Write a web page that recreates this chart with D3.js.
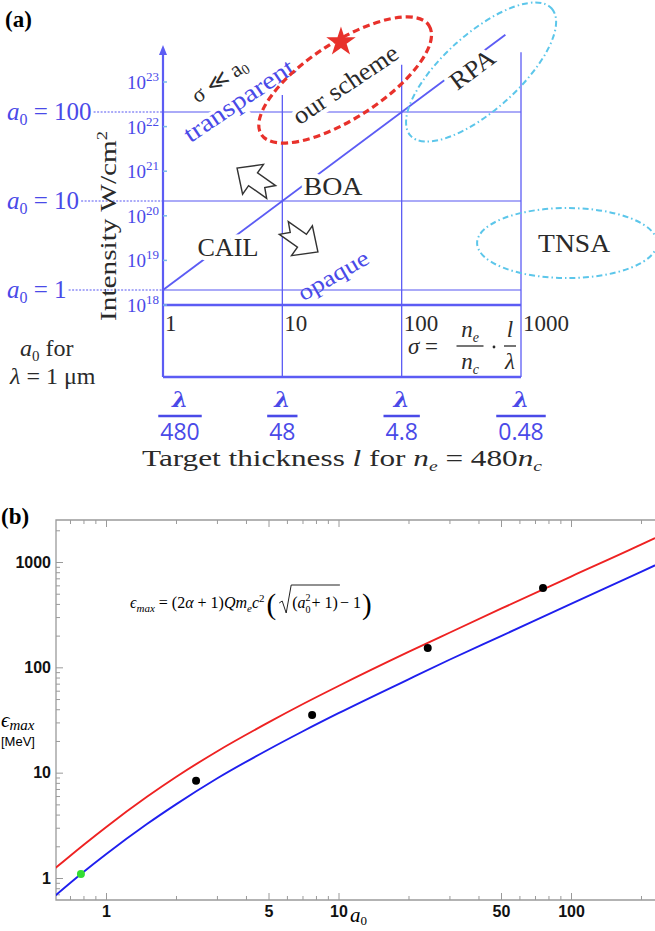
<!DOCTYPE html>
<html>
<head>
<meta charset="utf-8">
<script src="https://cdn.jsdelivr.net/npm/d3@7"></script>
<style>
  body { margin: 0; background: #fff; }
  svg text { font-family: "Liberation Serif", "Times New Roman", serif; }
  .tick text { font-family: "Liberation Sans", Arial, sans-serif; font-weight: bold; font-size: 16px; fill: #111; }
  .tick line { stroke: #9a9a9a; }
</style>
</head>
<body>
<svg id="fig" width="655" height="931"></svg>
<script>
// ---------- panel (a) data ----------
var intensityExp = [18, 19, 20, 21, 22, 23];          // 10^x W/cm^2
var a0Levels = [1, 10, 100];
var sigmaTicks = [1, 10, 100, 1000];
var sigmaLabels = ["1", "10", "100", "1000"];
var thicknessDen = ["480", "48", "4.8", "0.48"];        // l = lambda / den
var gridTopA0 = [155, 340, 470];                        // where the sigma=10,100,1000 lines stop
var diagonalSigma = [1, 740];                           // a0 = sigma boundary

// ---------- panel (b) data ----------
var a0Grid  = [0.6, 0.8, 1, 1.5, 2, 3, 5, 7, 10, 20, 30, 50, 100, 200, 230];
var epsHigh = [1.22, 2.06, 3.04, 5.9, 9.1, 15.9, 30, 44.6, 66.5, 140, 213, 360, 728, 1460, 1690];
var epsLow  = [0.67, 1.14, 1.68, 3.25, 5.0, 8.8, 16.6, 24.6, 36.7, 77, 118, 198, 401, 806, 930];
var simA0   = [2.44, 7.7, 24.2, 75.8];
var simEps  = [8.4, 35.3, 153, 566];
var greenA0 = [0.78];
var greenEps = [1.09];
var xMajor = [1, 5, 10, 50, 100];
var xMinor = [0.7, 0.8, 0.9, 2, 3, 4, 6, 7, 8, 9, 20, 30, 40, 60, 70, 80, 90, 200];
var yMajor = [1, 10, 100, 1000];
var yMinor = [0.7, 0.8, 0.9, 2, 3, 4, 5, 6, 7, 8, 9, 20, 30, 40, 50, 60, 70, 80, 90,
              200, 300, 400, 500, 600, 700, 800, 900, 2000];

var svg = d3.select("#fig");
var blue = "#4a4ae8", lineBlue = "#5c5cf4", lightBlue = "#8e8ef6", ink = "#2a2a2a";

// =================== (a) ===================
var sx = d3.scaleLog().domain([1, 1000]).range([163, 521]);
var sA = d3.scaleLog().domain([1, 100]).range([290, 112]);
var sI = d3.scaleLog().domain([1e18, 1e23]).range([305, 82]);
var tableBottom = 377, axisY = 305;

var ga = svg.append("g");

ga.append("text").attr("x", 5).attr("y", 27)
    .style("font-weight", "bold").style("font-size", "23px").text("(a)");

// a0 labels on the left
var a0lab = ga.selectAll(".a0lab").data(a0Levels).enter().append("text")
    .attr("class", "a0lab")
    .attr("x", 7).attr("y", function(d) { return sA(d) + 8; })
    .style("fill", blue).style("font-size", "25px");
a0lab.append("tspan").style("font-style", "italic").text("a");
a0lab.append("tspan").style("font-size", "16px").attr("dy", 5).text("0");
a0lab.append("tspan").attr("dy", -5).text(function(d) { return " = " + d; });

// horizontal a0 lines: dotted up to the axis, solid inside
a0lab.each(function(d) {
    var end = this.getBBox().x + this.getBBox().width + 2;
    ga.append("line")
        .attr("x1", end).attr("x2", sx(1))
        .attr("y1", sA(d)).attr("y2", sA(d))
        .style("stroke", lightBlue).style("stroke-width", 1.4)
        .style("stroke-dasharray", "2,1.5");
});
ga.selectAll(".hgrid").data(a0Levels).enter().append("line")
    .attr("x1", sx(1)).attr("x2", sx(1000))
    .attr("y1", function(d) { return sA(d); })
    .attr("y2", function(d) { return sA(d); })
    .style("stroke", lightBlue).style("stroke-width", 1.4);

// vertical grid lines
ga.selectAll(".vgrid").data(sigmaTicks.slice(1)).enter().append("line")
    .attr("x1", function(d) { return sx(d); })
    .attr("x2", function(d) { return sx(d); })
    .attr("y1", function(d, i) { return sA(gridTopA0[i]); })
    .attr("y2", tableBottom)
    .style("stroke", lineBlue).style("stroke-width", 1.3);

// thick axis + table bottom
[axisY, tableBottom].forEach(function(yy) {
    ga.append("line").attr("x1", sx(1)).attr("x2", sx(1000))
        .attr("y1", yy).attr("y2", yy)
        .style("stroke", lineBlue).style("stroke-width", 2.6);
});
// vertical axis with arrow
ga.append("line").attr("x1", sx(1)).attr("x2", sx(1))
    .attr("y1", 52).attr("y2", tableBottom)
    .style("stroke", lineBlue).style("stroke-width", 2.2);
ga.append("path").attr("d", "M" + sx(1) + ",45 l-4,10 l8,0 z").style("fill", lineBlue);

// intensity ticks
var itk = ga.selectAll(".itk").data(intensityExp).enter().append("g")
    .attr("transform", function(d) { return "translate(0," + sI(Math.pow(10, d)) + ")"; });
itk.append("line").attr("x1", sx(1)).attr("x2", sx(1) + 4)
    .style("stroke", "#7ab8e8").style("stroke-width", 1.5);
var itx = itk.append("text").attr("x", 159).attr("y", 7)
    .attr("text-anchor", "end").style("fill", blue).style("font-size", "19px");
itx.append("tspan").text("10");
itx.append("tspan").attr("dy", -8).style("font-size", "13px").text(function(d) { return d; });

// intensity label
var ilab = ga.append("text")
    .attr("transform", "translate(116,226) rotate(-90)")
    .attr("text-anchor", "middle").style("font-size", "24px").style("fill", ink)
    .attr("textLength", 190).attr("lengthAdjust", "spacingAndGlyphs");
ilab.append("tspan").text("Intensity W/cm");
ilab.append("tspan").attr("dy", -9).style("font-size", "15px").text("2");

// a0 = sigma boundary
ga.append("line")
    .attr("x1", sx(diagonalSigma[0])).attr("y1", sA(diagonalSigma[0]))
    .attr("x2", sx(diagonalSigma[1])).attr("y2", sA(diagonalSigma[1]))
    .style("stroke", lineBlue).style("stroke-width", 1.9);

// sigma labels under the axis
ga.selectAll(".slab").data(sigmaTicks).enter().append("text")
    .attr("x", function(d) { return sx(d) + 2; })
    .attr("y", 331).style("font-size", "23px").style("fill", ink)
    .text(function(d, i) { return sigmaLabels[i]; });

// sigma = ne/nc * l/lambda
var fz = ga.append("g").style("fill", ink);
fz.append("text").attr("x", 408).attr("y", 354).style("font-size", "23px")
    .html('<tspan font-style="italic">σ</tspan> =');
function frac(g, cx, top, bot, w) {
    g.append("line").attr("x1", cx - w / 2).attr("x2", cx + w / 2)
        .attr("y1", 346).attr("y2", 346).style("stroke", ink).style("stroke-width", 1.3);
    g.append("text").attr("x", cx).attr("y", 337).attr("text-anchor", "middle")
        .style("font-size", "23px").html(top);
    g.append("text").attr("x", cx).attr("y", 369).attr("text-anchor", "middle")
        .style("font-size", "23px").html(bot);
}
frac(fz, 470, '<tspan font-style="italic">n</tspan><tspan font-size="14" dy="5" font-style="italic">e</tspan>',
              '<tspan font-style="italic">n</tspan><tspan font-size="14" dy="5" font-style="italic">c</tspan>', 27);
fz.append("circle").attr("cx", 494).attr("cy", 347).attr("r", 1.4).style("fill", ink);
frac(fz, 510, '<tspan font-style="italic">l</tspan>', '<tspan font-style="italic">λ</tspan>', 12);

// a0 for lambda = 1 um
ga.append("text").attr("x", 20).attr("y", 356).style("font-size", "24px").style("fill", ink)
    .html('<tspan font-style="italic">a</tspan><tspan font-size="15" dy="5">0</tspan><tspan dy="-5">  for</tspan>');
ga.append("text").attr("x", 10).attr("y", 384).style("font-size", "24px").style("fill", ink)
    .html('<tspan font-style="italic">λ</tspan> = 1 μm');

// thickness fractions
var tf = ga.selectAll(".tf").data(sigmaTicks).enter().append("g")
    .attr("transform", function(d) { return "translate(" + Math.max(sx(d), 180) + ",0)"; });
tf.append("text").attr("y", 407).attr("text-anchor", "middle")
    .style("fill", blue).style("font-size", "23px").style("font-weight", "bold")
    .style("font-family", "'DejaVu Serif', serif").style("font-style", "italic").text("λ");
var den = tf.append("text").attr("y", 440).attr("text-anchor", "middle")
    .style("fill", blue).style("font-size", "23px").style("font-family", "'Open Sans', sans-serif")
    .text(function(d, i) { return thicknessDen[i]; });
den.each(function() {
    var w = this.getComputedTextLength() + 4;
    d3.select(this.parentNode).append("line").attr("x1", -w / 2).attr("x2", w / 2)
        .attr("y1", 416).attr("y2", 416).style("stroke", blue).style("stroke-width", 2.6);
});

ga.append("text").attr("x", 142).attr("y", 466).style("font-size", "24px").style("fill", ink)
    .attr("textLength", 400).attr("lengthAdjust", "spacingAndGlyphs")
    .html('Target thickness  <tspan font-style="italic">l</tspan>  for <tspan font-style="italic">n</tspan><tspan font-size="15" dy="5" font-style="italic">e</tspan><tspan dy="-5"> = 480</tspan><tspan font-style="italic">n</tspan><tspan font-size="15" dy="5" font-style="italic">c</tspan>');

// regime labels (white halo cuts the lines behind them)
var notes = [
    { t: "CAIL", s: 3.5, a: 3.04, rot: 0, len: 61, fs: 26 },
    { t: "BOA", s: 26.6, a: 14.7, rot: 0, len: 59, fs: 26 },
    { t: "RPA", s: 389, a: 304, rot: -37, len: 50, fs: 25 },
    { t: "TNSA", s: 2786, a: 3.37, rot: 0, len: 72, fs: 26 },
    { t: "our scheme", s: 33.6, a: 206, rot: -34, len: 122, fs: 25 }
];
ga.selectAll(".note").data(notes).enter().append("text")
    .attr("transform", function(d) { return "translate(" + sx(d.s) + "," + sA(d.a) + ") rotate(" + d.rot + ")"; })
    .attr("text-anchor", "middle").attr("dy", "0.35em")
    .attr("textLength", function(d) { return d.len; }).attr("lengthAdjust", "spacingAndGlyphs")
    .style("font-size", function(d) { return d.fs + "px"; })
    .style("fill", ink).style("stroke", "#fff").style("stroke-width", 9)
    .style("paint-order", "stroke").style("stroke-linejoin", "round")
    .text(function(d) { return d.t; });

ga.append("text")
    .attr("transform", "translate(" + sx(4.3) + "," + sA(136) + ") rotate(-34)")
    .attr("text-anchor", "middle").attr("dy", "0.35em")
    .attr("textLength", 128).attr("lengthAdjust", "spacingAndGlyphs")
    .style("font-size", "25px").style("fill", blue)
    .style("stroke", "#fff").style("stroke-width", 7).style("paint-order", "stroke")
    .text("transparent");
ga.append("text")
    .attr("transform", "translate(" + sx(2.95) + "," + sA(229) + ") rotate(-34)")
    .attr("text-anchor", "middle").attr("dy", "0.35em")
    .style("font-size", "22px").style("fill", ink)
    .html('σ ≪ a<tspan font-size="14" dy="3">0</tspan>');
ga.append("text")
    .attr("transform", "translate(" + sx(26.6) + "," + sA(1.47) + ") rotate(-30)")
    .attr("text-anchor", "middle").attr("dy", "0.35em")
    .attr("textLength", 78).attr("lengthAdjust", "spacingAndGlyphs")
    .style("font-size", "23px").style("fill", blue)
    .text("opaque");

// ellipses
ga.append("ellipse")
    .attr("transform", "translate(" + sx(33.6) + "," + sA(229) + ") rotate(-33)")
    .attr("rx", 100).attr("ry", 38)
    .style("fill", "none").style("stroke", "#e8312b").style("stroke-width", 3.2)
    .style("stroke-dasharray", "7,4");
ga.append("ellipse")
    .attr("transform", "translate(" + sx(463) + "," + sA(281) + ") rotate(-42)")
    .attr("rx", 95).attr("ry", 38)
    .style("fill", "none").style("stroke", "#5cc6ea").style("stroke-width", 2)
    .style("stroke-dasharray", "6,3,1.5,3");
ga.append("ellipse")
    .attr("transform", "translate(" + sx(2434) + "," + sA(3.37) + ")")
    .attr("rx", 90).attr("ry", 35)
    .style("fill", "none").style("stroke", "#5cc6ea").style("stroke-width", 2)
    .style("stroke-dasharray", "6,3,1.5,3");

ga.append("path")
    .attr("transform", "translate(" + sx(31) + "," + sA(612) + ")")
    .attr("d", d3.symbol(d3.symbolStar).size(270)())
    .style("fill", "#e8312b");

// block arrows
var arrowPath = "M-16,-6 L1,-6 L1,-14 L16,0 L1,14 L1,6 L-16,6 L-10,0 Z";
[{ s: 5.8, a: 17.2, rot: -145 }, { s: 14.3, a: 3.65, rot: 35 }].forEach(function(d) {
    ga.append("path")
        .attr("transform", "translate(" + sx(d.s) + "," + sA(d.a) + ") rotate(" + d.rot + ") scale(1.3)")
        .attr("d", arrowPath)
        .style("fill", "#fff").style("stroke", "#333").style("stroke-width", 1.1);
});

// =================== (b) ===================
var x = d3.scaleLog().domain([1, 100]).range([106, 571]);
var y = d3.scaleLog().domain([1, 1000]).range([878, 562]);
var L = 56, T = 520, B = 900, R = 655;

var gb = svg.append("g");
gb.append("text").attr("x", 1).attr("y", 524)
    .style("font-weight", "bold").style("font-size", "23px").text("(b)");

svg.append("clipPath").attr("id", "clipb").append("rect")
    .attr("x", L).attr("y", T).attr("width", R - L).attr("height", B - T);

function noDomain(g) { g.select(".domain").remove(); }

gb.append("g").attr("transform", "translate(0," + B + ")")
    .call(d3.axisBottom(x).tickValues(xMinor).tickSize(-4).tickFormat("")).call(noDomain);
gb.append("g").attr("transform", "translate(0," + B + ")")
    .call(d3.axisBottom(x).tickValues(xMajor).tickSize(-7).tickPadding(6).tickFormat(d3.format("d"))).call(noDomain);
gb.append("g").attr("transform", "translate(0," + T + ")")
    .call(d3.axisTop(x).tickValues(xMinor).tickSize(-4).tickFormat("")).call(noDomain);
gb.append("g").attr("transform", "translate(0," + T + ")")
    .call(d3.axisTop(x).tickValues(xMajor).tickSize(-7).tickFormat("")).call(noDomain);
gb.append("g").attr("transform", "translate(" + L + ",0)")
    .call(d3.axisLeft(y).tickValues(yMinor).tickSize(-4).tickFormat("")).call(noDomain);
gb.append("g").attr("transform", "translate(" + L + ",0)")
    .call(d3.axisLeft(y).tickValues(yMajor).tickSize(-7).tickPadding(5).tickFormat(d3.format("d"))).call(noDomain);

gb.append("path")
    .attr("d", "M" + R + "," + T + "H" + L + "V" + B + "H" + R)
    .style("fill", "none").style("stroke", "#9a9a9a").style("stroke-width", 1.3);

var line = d3.line().curve(d3.curveMonotoneX)
    .x(function(d) { return x(d[0]); })
    .y(function(d) { return y(d[1]); });
var plot = gb.append("g").attr("clip-path", "url(#clipb)");
plot.append("path").datum(d3.zip(a0Grid, epsHigh)).attr("d", line)
    .style("fill", "none").style("stroke", "#ee2222").style("stroke-width", 1.9);
plot.append("path").datum(d3.zip(a0Grid, epsLow)).attr("d", line)
    .style("fill", "none").style("stroke", "#1f1fee").style("stroke-width", 1.9);

plot.selectAll(".sim").data(d3.zip(simA0, simEps)).enter().append("circle")
    .attr("cx", function(d) { return x(d[0]); })
    .attr("cy", function(d) { return y(d[1]); })
    .attr("r", 4).style("fill", "#000");
plot.selectAll(".grn").data(d3.zip(greenA0, greenEps)).enter().append("circle")
    .attr("cx", function(d) { return x(d[0]); })
    .attr("cy", function(d) { return y(d[1]); })
    .attr("r", 4).style("fill", "#33dd33");

// axis labels
gb.append("text").attr("x", 1).attr("y", 727).style("font-size", "21px")
    .html('<tspan font-style="italic">ϵ</tspan><tspan font-style="italic" font-size="15" dy="3">max</tspan>');
gb.append("text").attr("x", 1).attr("y", 746).style("font-size", "13px")
    .style("font-family", "'Liberation Sans', Arial, sans-serif").text("[MeV]");
gb.append("text").attr("x", 350).attr("y", 922).style("font-size", "21px")
    .html('<tspan font-style="italic">a</tspan><tspan font-size="13" dy="3">0</tspan>');

// formula
var fy = 608, fs = 16;
var f1 = gb.append("text").attr("x", 130).attr("y", fy).style("font-size", fs + "px")
    .html('<tspan font-style="italic">ϵ</tspan><tspan font-style="italic" font-size="11" dy="4">max</tspan>' +
          '<tspan dy="-4"> = (2</tspan><tspan font-style="italic">α</tspan><tspan> + 1)</tspan>' +
          '<tspan font-style="italic">Qm</tspan><tspan font-style="italic" font-size="11" dy="4">e</tspan>' +
          '<tspan font-style="italic" dy="-4">c</tspan><tspan font-size="11" dy="-6">2</tspan><tspan dy="6"> </tspan>');
var cx = 130 + f1.node().getComputedTextLength() + 2;
var p1 = gb.append("text").attr("x", cx).attr("y", fy + 6).style("font-size", "29px").text("(");
cx += p1.node().getBBox().width + 3;
var rad0 = cx;
// (a0^2 + 1) under the root: the script pieces are separate texts so they stack
var f2 = gb.append("text").attr("x", cx + 13).attr("y", fy).style("font-size", fs + "px")
    .html('(<tspan font-style="italic">a</tspan>');
var sx2 = cx + 13 + f2.node().getComputedTextLength();
gb.append("text").attr("x", sx2).attr("y", fy - 7).style("font-size", "10px").text("2");
gb.append("text").attr("x", sx2).attr("y", fy + 5).style("font-size", "10px").text("0");
var f2b = gb.append("text").attr("x", sx2 + 6).attr("y", fy).style("font-size", fs + "px").text(" + 1)");
var radEnd = sx2 + 6 + f2b.node().getComputedTextLength() + 2;
gb.append("path")
    .attr("d", "M" + rad0 + "," + (fy - 5) + " l3,-2 l4,12 l5,-28 H" + radEnd)
    .style("fill", "none").style("stroke", "#222").style("stroke-width", 1);
cx = radEnd;
var f3 = gb.append("text").attr("x", cx).attr("y", fy).style("font-size", fs + "px").text(" − 1");
cx += f3.node().getComputedTextLength() + 1;
gb.append("text").attr("x", cx).attr("y", fy + 6).style("font-size", "29px").text(")");
</script>
</body>
</html>
